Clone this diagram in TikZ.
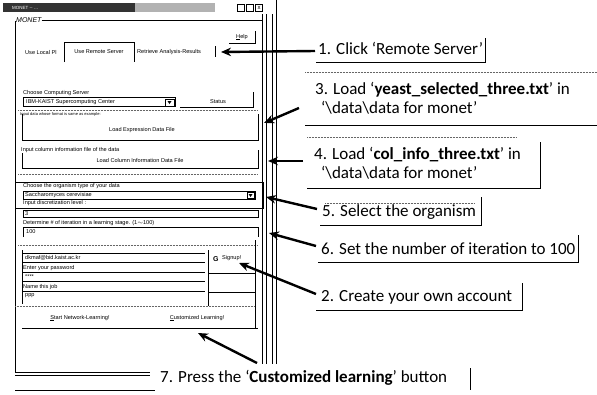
\documentclass[tikz,border=0pt]{standalone}
\usepackage{fontspec}
\setmainfont{Carlito}
\newfontfamily\uifont{Liberation Sans}
\usetikzlibrary{arrows.meta}
\begin{document}
\begin{tikzpicture}[x=1pt,y=-1pt,
  ui/.style={font=\uifont\fontsize{5.6}{6}\selectfont, inner sep=0pt, anchor=west},
  uic/.style={font=\uifont\fontsize{5.6}{6}\selectfont, inner sep=0pt},
  lbl/.style={font=\fontsize{17}{18}\selectfont, inner sep=0pt, anchor=west},
  callout/.style={line width=2.4pt, -{Stealth[length=10pt,width=8.5pt]}},
  frm/.style={line width=0.7pt},
  thin/.style={line width=0.5pt},
  dots/.style={densely dotted, line width=0.5pt, black!60},
  field/.style={draw, line width=0.5pt, inner sep=0pt}]
\useasboundingbox (0,0) rectangle (597,394);
% ---------- window ----------
\fill[black!80] (3,3) rectangle (135,12);
\fill[black!30] (135,3) rectangle (215,12);
\node[ui, white, font=\uifont\fontsize{4.5}{5}\selectfont] (title) at (12,7.5) {MONET -- \dots};
\node[field, minimum width=7pt, minimum height=7pt] (bmin) at (241,8) {};
\node[field, minimum width=7pt, minimum height=7pt] (bmax) at (250,8) {};
\node[field, minimum width=7pt, minimum height=7pt, font=\uifont\fontsize{6}{6}\selectfont] (bcls) at (259,8) {x};
\foreach \x in {262,266,272,276} \draw[frm] (\x,14) -- (\x,364);
\draw[frm] (276,0) -- (276,14);
\draw[frm] (15,21) -- (15,372);
\node[ui, font=\uifont\itshape\fontsize{7}{7}\selectfont] (monet) at (16,20) {MONET};
\draw[thin] (monet.east) -- (262,20);
% help
\node[uic] (help) at (242,37) {\underline{H}elp};
\draw[frm] (229,43) -- (255,43) -- (255,31);
% tabs
\node[ui] (tabL) at (25,52) {Use Local Pl};
\draw[frm] (64,62) -- (64,42) -- (134,42) -- (134,62);
\node[uic] (tabR) at (99,52) {Use Remote Server};
\node[ui] (tabA) at (137,52) {Retrieve Analysis-Results};
\draw[frm] (215,46) -- (215,57);
\coordinate (t1) at (221,52);
% computing server
\node[ui] (csrv) at (23,93) {Choose Computing Server};
\node[field, minimum width=152pt, minimum height=9pt, anchor=north west] (ddsrv) at (23,97) {};
\node[ui] at (26,102) {IBM-KAIST Supercomputing Center};
\draw[thin] (165,99) rectangle (174,106);
\fill (167.5,101) -- (171.5,101) -- (169.5,104) -- cycle;
\node[uic] (status) at (218,102) {Status};
\draw[frm] (180,107) -- (253,107) -- (253,92);
% expression file
\draw[dots] (18,110) -- (258,110);
\node[ui, font=\uifont\fontsize{4}{4}\selectfont] at (20,114) {Input data whose format is same as example:};
\node[uic] (loadexp) at (142,130) {Load Expression Data File};
\draw[frm] (22,114) -- (22,140) -- (258,140) -- (258,114);
\coordinate (t3) at (264,123);
% column file
\node[ui] (colinfo) at (21,150) {Input column information file of the data};
\node[uic] (loadcol) at (140,160) {Load Column Information Data File};
\draw[frm] (22,153) -- (22,168) -- (258,168) -- (258,150);
\draw[dots] (18,174) -- (258,174);
\coordinate (t4) at (268,161);
% organism
\draw[line width=1pt] (15,182) rectangle (263,208);
\node[ui] (org) at (23,186.5) {Choose the organism type of your data};
\node[field, minimum width=232pt, minimum height=8pt, anchor=north west] (ddorg) at (23,191) {};
\node[ui] at (25,195) {Saccharomyces cerevisiae};
\draw[thin] (247,192) rectangle (254,198);
\fill (248.5,194) -- (252.5,194) -- (250.5,197) -- cycle;
\node[ui] (disc) at (23,203.5) {Input discretization level :};
\coordinate (t5) at (266,197);
\node[field, minimum width=235pt, minimum height=7pt, anchor=north west] (fdisc) at (23,210) {};
\node[ui] at (25,213.5) {3};
\node[ui] (iter) at (23,223) {Determine \# of iteration in a learning stage. (1$\sim$100)};
\draw[frm] (23,237) -- (23,227) -- (258,227) -- (258,237);
\node[ui] (f100) at (26,232) {100};
\coordinate (t6) at (269,233);
% account
\draw[dots] (18,245) -- (258,245);
\draw[frm] (22,250) -- (22,304);
\node[ui] (mail) at (25,257.5) {dkmaf@bid.kaist.ac.kr};
\draw[frm] (23,253) -- (205,253);
\draw[frm] (23,262) -- (205,262);
\node[ui] (pwl) at (23,268) {Enter your password};
\draw[frm] (23,272) -- (205,272);
\node[ui] (pw) at (25,276.5) {****};
\draw[thin] (23,281) -- (205,281);
\node[ui] (jobl) at (23,287) {Name this job};
\draw[frm] (23,291) -- (205,291);
\node[ui] (job) at (25,296) {ppp};
\draw[frm] (208,250) -- (208,306);
\draw[thin] (208,273) -- (255,273);
\draw[thin] (208,292) -- (255,292);
\node[ui, font=\uifont\bfseries\fontsize{7}{7}\selectfont] (gicon) at (213,259) {G};
\node[ui] (signup) at (222,258) {Signup!};
\coordinate (t2) at (239,263);
% buttons
\draw[dots] (15,306) -- (255,306);
\draw[frm] (255,240) -- (255,328);
\node[uic] (bstart) at (80,318) {\underline{S}tart Network-Learning!};
\node[uic] (bcust) at (197,318) {\underline{C}ustomized Learning!};
\draw[frm] (22,328) -- (258,328);
\coordinate (t7) at (198,333);
\coordinate (s7) at (257,363);
\draw[frm] (15,372) -- (150,372);
\draw[thin] (15,375) -- (150,375);
\draw[frm] (15,390) -- (155,390);
% ---------- callout labels ----------
\node[lbl] (lab1) at (318,48) {1. Click `Remote Server'};
\draw[thin] (316,62) -- (485,62) -- (485,38);
\node[lbl] (lab3) at (315,90) {3. Load `\textbf{yeast\_selected\_three.txt}' in};
\node[lbl] (lab3b) at (321,108) {`\textbackslash data\textbackslash data for monet'};
\draw[dots] (305,72) -- (597,72);
\draw[frm] (305,125) -- (597,125);
\node[lbl] (lab4) at (314,155) {4. Load `\textbf{col\_info\_three.txt}' in};
\node[lbl] (lab4b) at (321,173) {`\textbackslash data\textbackslash data for monet'};
\draw[dots] (307,137) -- (517,137);
\draw[thin] (307,188) -- (540,188) -- (540,142);
\node[lbl] (lab5) at (322,212) {5. Select the organism};
\draw[dots] (325,203) -- (475,203);
\draw[thin] (320,225) -- (481,225) -- (481,197);
\node[lbl] (lab6) at (321,249) {6. Set the number of iteration to 100};
\draw[thin] (318,262) -- (578,262) -- (578,235);
\node[lbl] (lab2) at (321,297) {2. Create your own account};
\draw[thin] (316,310) -- (522,310) -- (522,283);
\node[lbl] (lab7) at (160,378) {7. Press the `\textbf{Customized learning}' button};
\draw[thin] (470,368) -- (470,390);
% ---------- arrows ----------
\draw[callout] (lab1.west) ++(-3,3) -- (t1);
\draw[callout] (299,108) -- (t3);
\draw[callout] (303,161) -- (t4);
\draw[callout] (lab5.west) ++(-5,-3) -- (t5);
\draw[callout] (lab6.west) ++(-5,-3) -- (t6);
\draw[callout] (lab2.west) ++(-5,-3) -- (t2);
\draw[callout] (s7) -- (t7);
\end{tikzpicture}
\end{document}
